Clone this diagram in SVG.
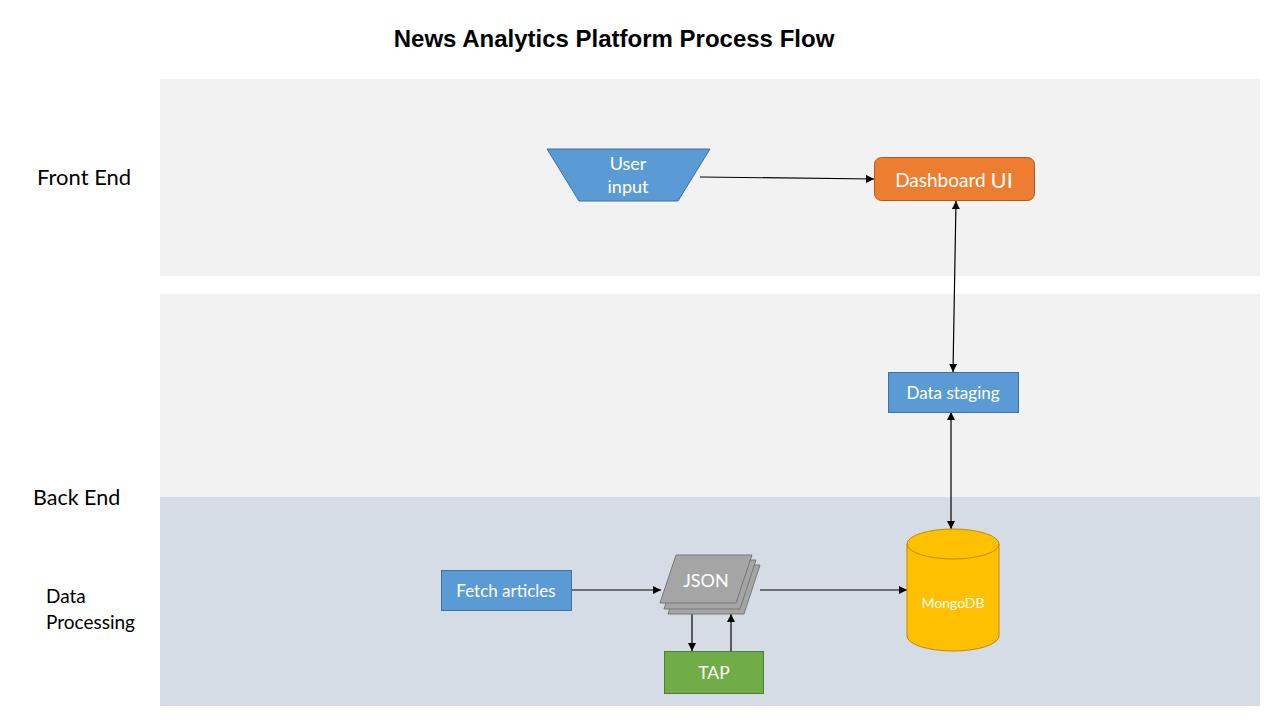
<svg xmlns="http://www.w3.org/2000/svg" width="1280" height="720" viewBox="0 0 1280 720">
<defs>
<marker id="ah" viewBox="0 0 10 10" refX="10" refY="5" markerWidth="8" markerHeight="8" markerUnits="userSpaceOnUse" orient="auto-start-reverse">
<path d="M0,0 L10,5 L0,10 z" fill="#000"/>
</marker>
<style>
.lane1{fill:#f2f2f2}
.lane2{fill:#d6dce5}
.lbl{font-family:Lato,"Open Sans",sans-serif;fill:#000}
.t{font-family:Lato,"Open Sans",sans-serif;fill:#fff;text-anchor:middle;dominant-baseline:central}
.blue{fill:#5b9bd5;stroke:#41719c;stroke-width:1}
.conn{stroke:#000;stroke-width:1.2;fill:none}
</style>
</defs>
<rect width="1280" height="720" fill="#fff"/>
<g id="lanes">
<rect class="lane1" x="160" y="79" width="1100" height="197"/>
<rect class="lane1" x="160" y="294" width="1100" height="203"/>
<rect class="lane2" x="160" y="497" width="1100" height="209"/>
</g>
<text x="614" y="38" font-family="Liberation Sans,Arial,sans-serif" font-weight="bold" font-size="24" text-anchor="middle" dominant-baseline="central">News Analytics Platform Process Flow</text>
<g id="lane-labels">
<text class="lbl" x="37" y="185" font-size="22">Front End</text>
<text class="lbl" x="33" y="505" font-size="21.5">Back End</text>
<text class="lbl" x="46" y="603" font-size="19">Data</text>
<text class="lbl" x="46" y="629" font-size="19">Processing</text>
</g>
<g id="connectors">
<line class="conn" x1="700" y1="177" x2="874" y2="179" marker-end="url(#ah)"/>
<line class="conn" x1="956" y1="201" x2="953" y2="372" marker-start="url(#ah)" marker-end="url(#ah)"/>
<line class="conn" x1="951" y1="412" x2="951" y2="529" marker-start="url(#ah)" marker-end="url(#ah)"/>
<line class="conn" x1="571" y1="590" x2="661" y2="590" marker-end="url(#ah)"/>
<line class="conn" x1="760" y1="590" x2="907" y2="590" marker-end="url(#ah)"/>
<line class="conn" x1="692" y1="614" x2="692" y2="651" marker-end="url(#ah)"/>
<line class="conn" x1="731" y1="651" x2="731" y2="614" marker-end="url(#ah)"/>
</g>
<g id="user-input">
<polygon class="blue" points="547,149 710,149 678,201 579,201"/>
<text class="t" x="628" y="163" font-size="18">User</text>
<text class="t" x="628" y="186" font-size="18">input</text>
</g>
<g id="dashboard-ui">
<rect x="874.5" y="157.5" width="160" height="43" rx="7" fill="#ed7d31" stroke="#ae5a21"/>
<text class="t" x="954" y="179" font-size="19">Dashboard <tspan font-size="22">UI</tspan></text>
</g>
<g id="data-staging">
<rect class="blue" x="888.5" y="372.5" width="130" height="40"/>
<text class="t" x="953" y="392" font-size="17">Data staging</text>
</g>
<g id="mongodb">
<path d="M907,544 L907,636 A46,15 0 0 0 999,636 L999,544 A46,15 0 0 0 907,544 Z" fill="#ffc000" stroke="#bc8c00"/>
<path d="M907,544 A46,15 0 0 0 999,544" fill="none" stroke="#bc8c00"/>
<text class="t" x="953" y="602" font-size="14">MongoDB</text>
</g>
<g id="fetch-articles">
<rect class="blue" x="441.5" y="570.5" width="130" height="40"/>
<text class="t" x="506" y="590" font-size="17">Fetch articles</text>
</g>
<g id="json">
<polygon points="684,565 760,565 744,614 668,614" fill="#a5a5a5" stroke="#787878"/>
<polygon points="680,560 756,560 740,609 664,609" fill="#a5a5a5" stroke="#787878"/>
<polygon points="676,555 752,555 736,603 660,603" fill="#a5a5a5" stroke="#787878"/>
<text class="t" x="706" y="580" font-size="18">JSON</text>
</g>
<g id="tap">
<rect x="664.5" y="651.5" width="99" height="42" fill="#70ad47" stroke="#507e32"/>
<text class="t" x="714" y="672" font-size="17.5">TAP</text>
</g>
</svg>
